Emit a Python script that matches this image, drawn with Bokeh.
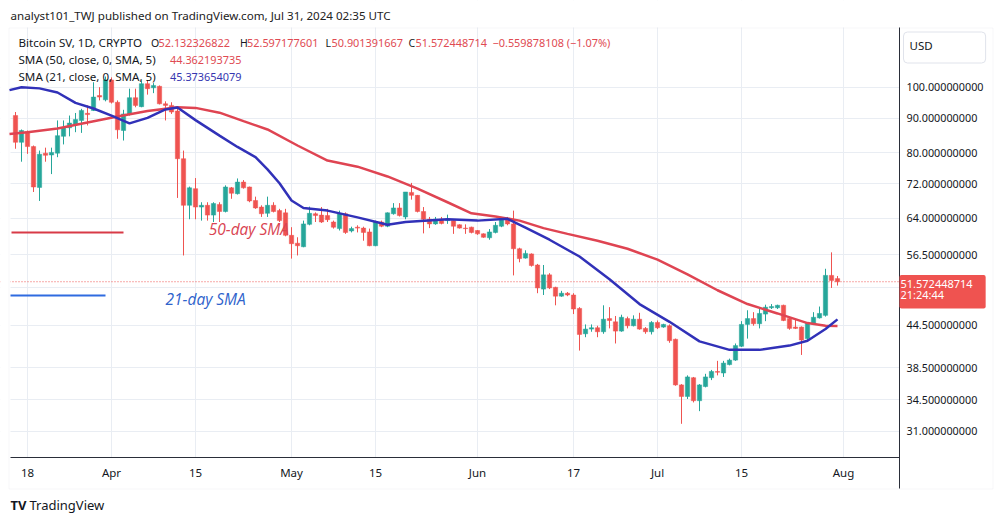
import math
import pandas as pd
from bokeh.plotting import figure
from bokeh.models import (Range1d, FixedTicker, PrintfTickFormatter, Label, Span,
                          BoxAnnotation, ColumnDataSource)
from bokeh.embed import file_html
from bokeh.resources import INLINE

# ---------------- data ----------------
first_candle_date = "2024-03-16"
opens = [90.8, 82.9, 86.0, 81.7, 71.1, 79.9, 79.4, 79.9, 84.6, 87.1,
         88.1, 89.3, 91.5, 92.4, 97.2, 95.8, 102.5, 95.0, 86.3, 91.3,
         96.5, 93.6, 101.2, 99.8, 100.3, 94.5, 94.0, 92.2, 78.4, 66.9,
         70.8, 66.5, 66.9, 64.7, 67.1, 65.5, 71.0, 69.6, 72.4, 71.2,
         68.0, 66.5, 65.1, 66.9, 65.7, 65.2, 60.4, 58.8, 58.1, 62.7,
         65.0, 64.7, 64.6, 63.2, 61.8, 65.0, 61.3, 62.1, 61.9, 61.1,
         58.3, 63.2, 62.3, 65.0, 66.3, 64.3, 69.9, 69.2, 65.5, 63.8,
         62.8, 63.8, 63.5, 63.5, 62.6, 61.9, 62.1, 61.4, 60.7, 59.9,
         61.0, 62.3, 64.0, 62.8, 57.7, 55.9, 56.7, 54.6, 50.3, 52.8,
         50.6, 49.1, 49.6, 49.3, 47.1, 43.2, 43.9, 44.1, 43.5, 45.5,
         45.0, 43.6, 45.5, 44.4, 45.4, 44.0, 43.5, 44.9, 44.2, 44.4,
         42.4, 36.3, 34.9, 37.2, 34.4, 36.1, 37.2, 38.0, 37.8, 38.9,
         39.5, 41.4, 44.6, 45.5, 44.7, 46.2, 47.2, 47.2, 47.6, 45.5,
         44.2, 44.2, 42.5, 44.8, 45.6, 46.0, 52.7, 52.132326822]
highs = [91.9, 86.6, 86.3, 82.0, 80.6, 81.4, 81.4, 89.3, 89.3, 90.8,
         91.6, 92.9, 94.0, 101.7, 100.0, 103.7, 103.4, 95.6, 92.6, 99.5,
         99.5, 102.3, 102.3, 101.4, 100.6, 95.3, 95.0, 93.6, 80.6, 71.3,
         73.4, 67.6, 67.6, 67.6, 67.6, 71.6, 71.2, 73.3, 72.9, 71.3,
         68.9, 66.9, 68.9, 67.6, 66.1, 66.1, 62.1, 60.0, 63.5, 66.6,
         65.3, 66.5, 66.1, 63.5, 65.7, 65.3, 62.2, 62.5, 62.2, 61.8,
         63.5, 63.5, 65.3, 67.4, 67.4, 70.0, 72.2, 69.3, 66.5, 64.3,
         64.3, 64.3, 64.8, 63.6, 62.7, 62.7, 62.2, 61.5, 60.8, 61.7,
         63.2, 64.3, 64.3, 65.7, 57.9, 57.4, 56.8, 54.8, 54.6, 53.1,
         50.7, 50.0, 49.8, 49.6, 47.3, 44.6, 44.6, 44.4, 47.6, 47.3,
         45.9, 46.1, 45.8, 46.0, 46.4, 44.2, 45.1, 45.2, 44.7, 44.6,
         42.5, 36.4, 37.5, 37.3, 36.4, 37.7, 38.2, 39.4, 39.4, 39.7,
         41.8, 45.1, 46.8, 46.5, 47.2, 47.7, 47.8, 47.7, 47.7, 45.6,
         45.3, 44.3, 44.9, 46.5, 47.4, 53.9, 57.0, 52.597177601]
lows = [81.1, 77.6, 79.7, 70.0, 67.9, 77.6, 74.4, 78.8, 82.3, 84.6,
        85.8, 85.6, 87.8, 92.2, 95.6, 95.3, 94.6, 83.9, 83.4, 90.8,
        93.4, 93.4, 97.5, 98.0, 94.3, 89.3, 91.3, 68.6, 56.4, 63.8,
        63.8, 63.5, 63.5, 63.2, 63.2, 65.3, 68.4, 69.4, 70.8, 67.6,
        66.1, 64.3, 64.3, 65.3, 63.2, 60.2, 55.8, 56.4, 58.0, 62.5,
        63.2, 63.0, 63.2, 61.8, 61.4, 60.7, 61.0, 61.0, 59.3, 58.2,
        58.2, 62.1, 62.1, 64.8, 64.4, 63.8, 68.2, 65.3, 60.8, 61.9,
        62.6, 62.7, 62.8, 60.7, 61.8, 60.7, 60.8, 60.5, 59.9, 59.5,
        60.8, 62.1, 62.5, 52.7, 55.1, 55.8, 54.3, 49.6, 49.3, 50.3,
        47.6, 49.0, 49.1, 46.2, 40.8, 42.7, 43.5, 42.7, 43.2, 44.0,
        41.8, 43.5, 44.0, 44.3, 43.8, 43.2, 43.1, 43.9, 44.1, 41.9,
        36.2, 31.8, 34.6, 34.2, 33.2, 36.0, 36.9, 37.5, 37.3, 38.8,
        39.4, 41.3, 42.5, 44.4, 44.0, 45.1, 47.0, 47.0, 45.1, 43.8,
        43.9, 40.2, 42.3, 44.6, 45.5, 45.8, 50.5, 50.901391667]
closes = [82.9, 86.3, 81.7, 71.2, 79.6, 79.3, 80.1, 84.8, 87.1, 88.5,
          89.6, 92.4, 91.1, 96.7, 96.7, 102.5, 95.0, 86.5, 91.3, 96.5,
          94.0, 101.2, 99.5, 100.6, 94.5, 94.0, 91.9, 78.4, 66.9, 71.0,
          66.5, 66.9, 64.7, 67.3, 65.5, 71.2, 69.7, 72.4, 71.0, 67.9,
          66.3, 65.0, 66.9, 65.5, 63.5, 60.4, 58.7, 58.3, 62.8, 65.1,
          64.6, 63.2, 63.7, 62.1, 65.0, 61.0, 61.8, 61.9, 61.0, 58.3,
          63.2, 62.3, 65.2, 66.3, 64.6, 70.0, 69.2, 65.5, 63.8, 62.8,
          63.8, 62.9, 63.8, 62.3, 61.9, 61.8, 61.0, 60.7, 60.0, 61.1,
          62.5, 64.0, 62.8, 57.7, 55.8, 56.8, 54.5, 50.5, 52.8, 50.5,
          49.1, 49.6, 49.3, 47.0, 43.1, 43.9, 44.1, 43.5, 45.4, 45.2,
          43.6, 45.7, 44.4, 45.4, 43.9, 43.5, 44.9, 44.1, 44.6, 42.2,
          36.3, 34.9, 37.3, 34.4, 36.3, 37.3, 38.0, 37.9, 39.1, 39.5,
          41.5, 44.6, 45.5, 44.7, 46.3, 47.3, 47.4, 47.6, 45.2, 44.0,
          44.0, 42.3, 44.8, 45.7, 46.3, 52.7, 51.8, 51.572448714]

sma50_dates = ["2024-03-15", "2024-03-18", "2024-03-23", "2024-03-28", "2024-04-02",
               "2024-04-07", "2024-04-12", "2024-04-15", "2024-04-19", "2024-04-23",
               "2024-04-27", "2024-05-02", "2024-05-07", "2024-05-12", "2024-05-17",
               "2024-05-22", "2024-05-27", "2024-05-31", "2024-06-04", "2024-06-08",
               "2024-06-12", "2024-06-16", "2024-06-21", "2024-06-26", "2024-07-01",
               "2024-07-06", "2024-07-11", "2024-07-16", "2024-07-21", "2024-07-26",
               "2024-07-29", "2024-07-31"]
sma50_values = [85.3, 85.8, 86.9, 88.7, 90.5,
                92.2, 93.4, 93.2, 91.7, 89.1,
                86.6, 82.0, 77.9, 76.3, 73.8,
                70.8, 67.6, 65.1, 64.4, 63.5,
                61.9, 60.7, 59.3, 57.7, 55.6,
                52.9, 50.1, 47.8, 46.3, 44.8,
                44.4, 44.362193735]

sma21_dates = ["2024-03-15", "2024-03-17", "2024-03-20", "2024-03-23", "2024-03-26",
               "2024-03-29", "2024-04-01", "2024-04-04", "2024-04-07", "2024-04-10",
               "2024-04-12", "2024-04-15", "2024-04-19", "2024-04-22", "2024-04-25",
               "2024-04-27", "2024-04-29", "2024-05-01", "2024-05-03", "2024-05-07",
               "2024-05-12", "2024-05-17", "2024-05-20", "2024-05-27", "2024-06-01",
               "2024-06-06", "2024-06-09", "2024-06-13", "2024-06-18", "2024-06-23",
               "2024-06-28", "2024-07-03", "2024-07-08", "2024-07-13", "2024-07-18",
               "2024-07-23", "2024-07-26", "2024-07-29", "2024-07-31"]
sma21_values = [99.0, 100.0, 99.6, 98.2, 94.8,
                93.0, 90.8, 88.4, 90.1, 92.7,
                93.3, 89.4, 84.8, 81.6, 78.8,
                75.6, 72.1, 68.0, 66.3, 65.7,
                64.2, 62.6, 63.2, 63.8, 63.5,
                63.9, 62.0, 59.5, 56.2, 52.0,
                47.8, 45.0, 42.1, 40.9, 40.9,
                41.5, 42.2, 43.9, 45.373654079]

tick_dates = ["2024-03-18", "2024-04-01", "2024-04-15", "2024-05-01", "2024-05-15",
              "2024-06-01", "2024-06-17", "2024-07-01", "2024-07-15", "2024-08-01"]
tick_labels = ["18", "Apr", "15", "May", "15", "Jun", "17", "Jul", "15", "Aug"]
price_ticks = [31, 34.5, 38.5, 44.5, 56.5, 64, 72, 80, 90, 100]
hidden_price_tick = [50.5]

# hand drawn notes: (price level, from date, to date)
note50_level, note50_from, note50_to = 61.0, "2024-03-15", "2024-04-03"
note21_level, note21_from, note21_to = 49.2, "2024-03-15", "2024-03-31"

last_price = 51.572448714

# ---------------- geometry (pixel calibration of the canvas) ----------------
W, H = 1003, 522
X0, DX = 27.0, 6.0          # px of 2024-03-18, px per day
Y100, K = 86.7, 293.8       # px of price 100, px per unit of ln(price)
PANE_L, PANE_R, PANE_T, PANE_B, AXIS_B = 10, 899, 27, 457, 488

origin = pd.Timestamp("2024-03-18")


def day(s):
    return (pd.Timestamp(s) - origin).days


def px_day(px):
    return (px - X0) / DX


def py_price(py):
    return 100.0 * math.exp(-(py - Y100) / K)


cdates = pd.date_range(first_candle_date, periods=len(opens), freq="D")
cx = [(d - origin).days for d in cdates]
UP, DOWN = "#26a69a", "#ef5350"
colors = [UP if c >= o else DOWN for o, c in zip(opens, closes)]
src = ColumnDataSource(dict(
    x=cx, top=[max(o, c) for o, c in zip(opens, closes)],
    bottom=[min(o, c) for o, c in zip(opens, closes)],
    high=highs, low=lows, color=colors))

p = figure(width=W, height=H, y_axis_type="log", y_axis_location="right",
           x_range=Range1d(px_day(0), px_day(W)), y_range=Range1d(py_price(H), py_price(0)),
           min_border=0, toolbar_location=None, output_backend="svg")
p.background_fill_color = "white"
p.border_fill_color = "white"
p.outline_line_color = None

# axes drawn inside the canvas at fixed locations
TXT = "#131722"
p.yaxis.ticker = FixedTicker(ticks=price_ticks)
p.yaxis.formatter = PrintfTickFormatter(format="%.9f")
p.yaxis.fixed_location = px_day(PANE_R)
p.yaxis.bounds = (py_price(AXIS_B), py_price(PANE_T))
p.xaxis.ticker = FixedTicker(ticks=[day(s) for s in tick_dates])
p.xaxis.major_label_overrides = {day(s): l for s, l in zip(tick_dates, tick_labels)}
p.xaxis.fixed_location = py_price(PANE_B)
p.xaxis.bounds = (px_day(PANE_L), px_day(PANE_R))
for ax in (p.xaxis, p.yaxis):
    ax.major_tick_out = 0
    ax.major_tick_in = 0
    ax.minor_tick_out = 0
    ax.minor_tick_in = 0
    ax.axis_line_color = "#2a2e39"
    ax.axis_line_width = 1
    ax.major_label_text_color = TXT
    ax.major_label_text_font = "Noto Sans"
p.yaxis.major_label_text_font_size = "10.8px"
p.xaxis.major_label_text_font_size = "11.5px"
p.yaxis.major_label_standoff = 7
p.xaxis.major_label_standoff = 7
p.ygrid.ticker = FixedTicker(ticks=price_ticks + hidden_price_tick)
p.xgrid.grid_line_color = "#e9edf3"
p.ygrid.grid_line_color = "#e9edf3"

# current price line (under everything)
p.add_layout(Span(location=last_price, dimension="width", line_color="#ef5350",
                  line_dash="1 2", line_width=1, level="underlay"))

# white masks so grid lines stop at the pane edges
for kw in (dict(right=px_day(PANE_L)), dict(left=px_day(PANE_R)),
           dict(bottom=py_price(PANE_T)), dict(top=py_price(PANE_B))):
    p.add_layout(BoxAnnotation(fill_color="white", fill_alpha=1, line_color=None,
                               level="underlay", **kw))
# pane border
p.add_layout(BoxAnnotation(left=px_day(8.5), right=px_day(992.5), top=py_price(27.5),
                           bottom=py_price(AXIS_B + 0.5), fill_alpha=0, line_color="#e0e3eb",
                           line_width=1, level="underlay"))

# candles
p.segment(x0="x", y0="low", x1="x", y1="high", color="color", line_width=1, source=src)
p.vbar(x="x", top="top", bottom="bottom", width=0.72, fill_color="color",
       line_color="color", line_width=0.5, source=src)

# moving averages
p.line([day(s) for s in sma50_dates], sma50_values, line_color="#df4452", line_width=2.5)
p.line([day(s) for s in sma21_dates], sma21_values, line_color="#3131b8", line_width=2.5)

# hand drawn notes
p.line([px_day(PANE_L + 1), day(note50_to)], [note50_level, note50_level],
       line_color="#d83a47", line_width=2)
p.line([px_day(PANE_L), day(note21_to)], [note21_level, note21_level],
       line_color="#2f6be0", line_width=2)
p.add_layout(Label(x=day("2024-04-17") + 0.2, y=61.8, text="50-day SMA", text_font="Open Sans",
                   text_font_style="italic", text_font_size="15.5px", text_color="#d94452",
                   text_baseline="middle"))
p.add_layout(Label(x=day("2024-04-10"), y=48.7, text="21-day SMA", text_font="Open Sans",
                   text_font_style="italic", text_font_size="15.5px", text_color="#2f63cc",
                   text_baseline="middle"))


# ---------------- overlay texts (canvas pixel coordinates) ----------------
def lab(text, px, py, size, color, font="Noto Sans", style="normal", baseline="middle", **kw):
    p.add_layout(Label(x=px, y=H - py, x_units="screen", y_units="screen", text=text,
                       text_font=font, text_font_size=f"{size}px", text_color=color,
                       text_font_style=style, text_align="left", text_baseline=baseline, **kw))


RED, BLUE = "#e04a52", "#3535b0"
lab("analyst101_TWJ published on TradingView.com, Jul 31, 2024 02:35 UTC", 10, 15, 11.6, "#222222")
lab("Bitcoin SV, 1D, CRYPTO", 18, 42, 11.6, TXT)
lab("O", 150.5, 42, 10.5, TXT)
lab("52.132326822", 158, 42, 10.9, RED)
lab("H", 239.5, 42, 10.5, TXT)
lab("52.597177601", 246.5, 42, 10.9, RED)
lab("L", 325, 42, 10.5, TXT)
lab("50.901391667", 331, 42, 10.9, RED)
lab("C", 408, 42, 10.5, TXT)
lab("51.572448714", 415, 42, 10.9, RED)
lab("\u22120.559878108 (\u22121.07%)", 492, 42, 10.9, RED)
lab("SMA (50, close, 0, SMA, 5)", 18, 59, 11.6, TXT)
lab("44.362193735", 169.5, 59, 10.9, RED)
lab("SMA (21, close, 0, SMA, 5)", 18, 76, 11.6, TXT)
lab("45.373654079", 169.5, 76, 10.9, BLUE)

lab("USD", 903, 31.5, 11.5, TXT, baseline="top", background_fill_color="white",
    border_line_color="#e0e3eb", border_radius=4, padding=(6, 53, 6, 10))
lab("51.572448714\n21:24:44", 899, 274.5, 11, "white", baseline="top",
    background_fill_color="#ef5350", border_radius=2, padding=(1, 13, 1, 7), text_line_height=0.7)

lab("TV", 10, 504, 13, TXT, style="bold")
lab("TradingView", 29, 504, 13, TXT)

open("out.html", "w").write(file_html(p, INLINE))
